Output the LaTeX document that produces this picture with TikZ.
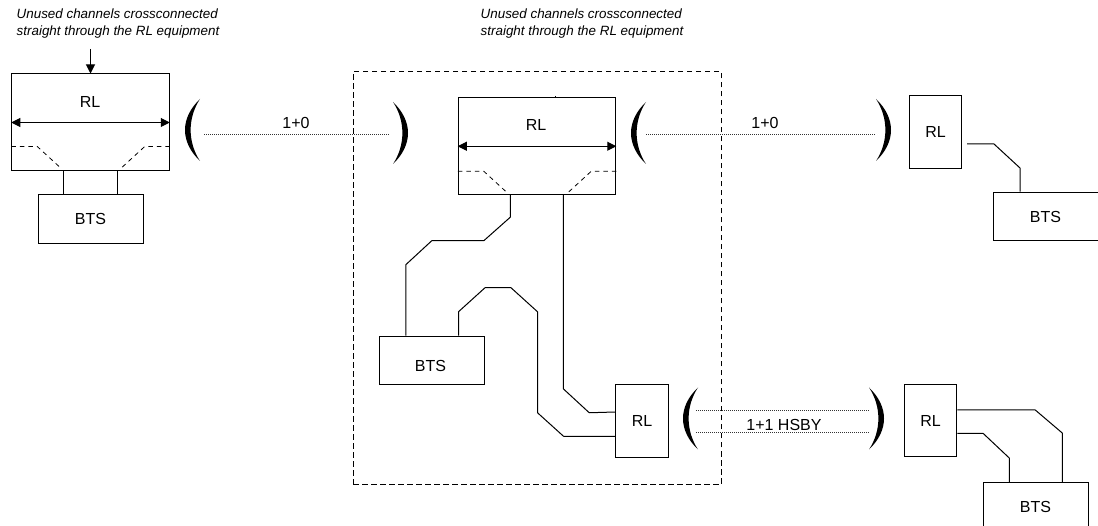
\documentclass[tikz,border=0pt]{standalone}
\usepackage{fontspec}
\setmainfont{Liberation Sans}
\usetikzlibrary{arrows.meta}

\begin{document}
\begin{tikzpicture}[x=1pt,y=-1pt,line width=1pt,
  box/.style={draw,inner sep=0pt,font=\fontsize{16}{18}\selectfont},
  bts/.style={box,minimum width=105pt,minimum height=48.5pt},
  rlwide/.style={box,minimum width=157.5pt,minimum height=97pt},
  rlsmall/.style={box,minimum width=52.5pt,minimum height=72.5pt},
  note/.style={font=\fontsize{13.4}{17}\itshape\selectfont,align=left,inner sep=0pt},
  hop/.style={font=\fontsize{16}{18}\selectfont,inner sep=0pt},
  radio/.style={line width=0.8pt,dash pattern=on 1pt off 1pt,black!80},
  cross/.style={line width=0.8pt,dash pattern=on 4.5pt off 4pt},
  wide/.style={{Triangle[length=9pt,width=9pt]}-{Triangle[length=9pt,width=9pt]}},
  lobe/.pic={\fill (0,-31) .. controls (-20,-12) and (-20,12) .. (0,31) .. controls (-12.5,12) and (-12.5,-12) .. (0,-31);}]
\useasboundingbox (0,0) rectangle (1098,526);

\node[note] (n1) at (118,23.5) {Unused channels crossconnected\\straight through the RL equipment};
\node[note] (n2) at (582,23.5) {Unused channels crossconnected\\straight through the RL equipment};
\node[draw,dash pattern=on 5.5pt off 3.5pt,inner sep=0pt,minimum width=368pt,minimum height=413pt] (site) at (537,278) {};

% left station
\node[rlwide] (rl1) at (90.5,122.5) {};
\node[hop] (rl1t) at (90,102) {RL};
\node[bts] (bts1) at (90.5,219) {BTS};
\coordinate (a1) at (90.5,49);
\draw[-{Triangle[length=9pt,width=9pt]}] (a1) -- (rl1.north);
\draw[wide] (rl1.west) -- (rl1.east);
\draw[cross] ([yshift=25pt]rl1.south west) -- ++(26,0) -- ++(24,22);
\draw[cross] ([yshift=25pt]rl1.south east) -- ++(-25,0) -- ++(-24,22);
\draw ([xshift=52pt]rl1.south west) -- ([xshift=25.75pt]bts1.north west);
\draw ([xshift=-52pt]rl1.south east) -- ([xshift=-25.75pt]bts1.north east);

% middle station
\node[rlwide] (rl2) at (537,146.25) {};
\node[hop] (rl2t) at (536,125) {RL};
\coordinate (t2) at (555,96);
\draw (t2) -- ++(0,2);
\draw[wide] (rl2.west) -- (rl2.east);
\draw[cross] ([yshift=24pt]rl2.south west) -- ++(26,0) -- ++(24,22);
\draw[cross] ([yshift=24pt]rl2.south east) -- ++(-25,0) -- ++(-24,22);
\node[bts] (bts2) at (431.5,360.5) {};
\node[hop] (bts2t) at (430.5,366) {BTS};
\node[rlsmall] (rl3) at (642,421) {RL};
\draw ([xshift=52.5pt]rl2.south west) -- ++(0,22) -- ++(-26.5,23.5) -- ++(-52,0) -- ++(-26,24) -- ([xshift=27.25pt]bts2.north west);
\draw ([xshift=-26pt]bts2.north east) -- ++(0,-24) -- ++(26.5,-24) -- ++(26,0) -- ++(26.5,24) -- ++(0,101) -- ++(26,23.5) -- ([yshift=-15.5pt]rl3.west);
\draw ([xshift=-53pt]rl2.south east) -- ++(0,193.5) -- ++(26,24) -- ([yshift=9pt]rl3.west);

% right stations
\node[rlsmall] (rl4) at (935.5,132) {RL};
\node[bts] (bts4) at (1045.5,216.5) {BTS};
\coordinate (s4) at (967,144);
\draw (s4) -- ++(27,0) -- ++(26,24) -- ([xshift=27.5pt]bts4.north west);
\node[rlsmall] (rl5) at (930.5,420.5) {RL};
\node[bts] (bts5) at (1035.5,506.5) {BTS};
\draw ([yshift=10.5pt]rl5.east) -- ++(78,0) -- ++(27,23) -- ([xshift=-26.25pt]bts5.north east);
\draw ([yshift=-13pt]rl5.east) -- ++(26,0) -- ++(26,24.5) -- ([xshift=26.75pt]bts5.north west);

% radio hops
\pic (p1) at (200,130) {lobe};
\pic[xscale=-1] (p2) at (393,133) {lobe};
\pic (p3) at (646,133) {lobe};
\pic[xscale=-1] (p4) at (876,130) {lobe};
\pic (p5) at (698,418.5) {lobe};
\pic[xscale=-1] (p6) at (869,418.5) {lobe};
\coordinate (h1a) at (204,134);
\coordinate (h1b) at (389,134);
\coordinate (h2a) at (646,134);
\coordinate (h2b) at (876,134);
\coordinate (h3a) at (696,410);
\coordinate (h3b) at (870,410);
\coordinate (h4a) at (696,432.5);
\coordinate (h4b) at (870,432.5);
\draw[radio] (h1a) -- (h1b);
\draw[radio] (h2a) -- (h2b);
\draw[radio] (h3a) -- (h3b);
\draw[radio] (h4a) -- (h4b);
\node[hop] (l1) at (296,122.5) {1+0};
\node[hop] (l2) at (765,122.5) {1+0};
\node[hop] (l3) at (784,425) {1+1 HSBY};
\end{tikzpicture}
\end{document}
